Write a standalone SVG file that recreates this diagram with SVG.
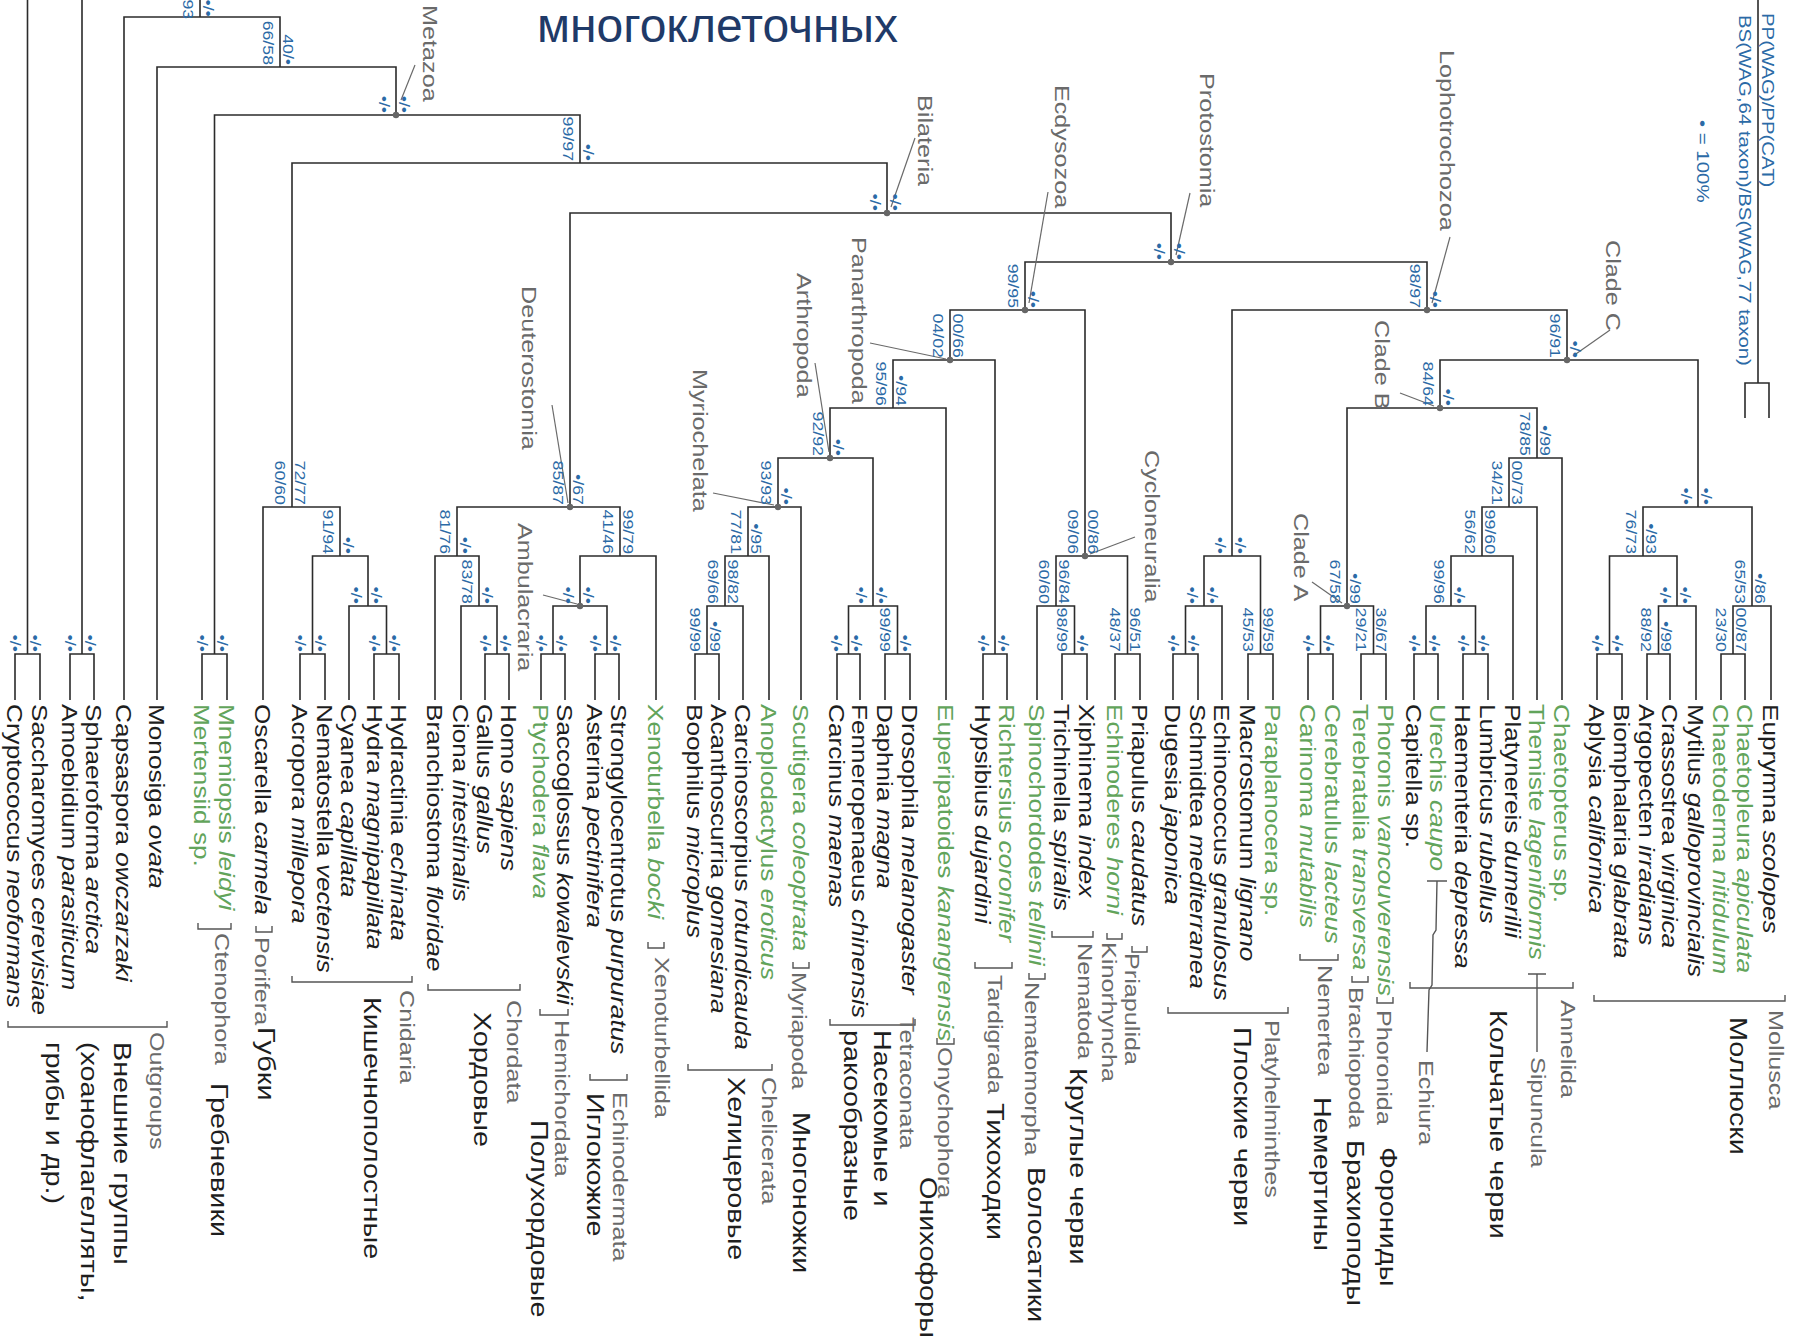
<svg xmlns="http://www.w3.org/2000/svg" width="1797" height="1340" viewBox="0 0 1797 1340">
<style>
.ln{fill:none;stroke:#2b2b2b;stroke-width:1.6}
.br{fill:none;stroke:#555;stroke-width:1.4}
.ld{fill:none;stroke:#6a6a6a;stroke-width:1.2}
text{font-family:"Liberation Sans",Arial,sans-serif}
.t{font-size:21.8px;fill:#1e1e1e}
.g{fill:#62a45b}
.i{font-style:italic}
.s{font-size:14.8px;fill:#2b6aa6}
.c{font-size:21px;fill:#6a6a6a}
.r{font-size:24px;fill:#1e1e1e}
.lg{font-size:17px;fill:#2b6aa6}
.e{text-anchor:end}
.dot{fill:#666}
</style>
<rect width="1797" height="1340" fill="#fff"/>
<text x="537" y="42" font-family="Liberation Sans, Arial, sans-serif" font-size="48" fill="#1f3a68">многоклеточных</text>

<g id="connectors">
<path class="ln" d="M15 700V654H40V700M27.5 654V0"/>
<path class="ln" d="M70 700V654H94V700M82 654V0"/>
<path class="ln" d="M202 700V654H227V700"/>
<path class="ln" d="M300 700V654H325V700"/>
<path class="ln" d="M374 700V654H399V700"/>
<path class="ln" d="M485 700V654H509V700"/>
<path class="ln" d="M541 700V654H565V700"/>
<path class="ln" d="M595 700V654H619V700"/>
<path class="ln" d="M695 700V654H719V700"/>
<path class="ln" d="M837 700V654H860V700"/>
<path class="ln" d="M885 700V654H910V700"/>
<path class="ln" d="M983 700V654H1007V700"/>
<path class="ln" d="M1062 700V654H1087V700"/>
<path class="ln" d="M1115 700V654H1140V700"/>
<path class="ln" d="M1173 700V654H1198V700"/>
<path class="ln" d="M1248 700V654H1273V700"/>
<path class="ln" d="M1308 700V654H1333V700"/>
<path class="ln" d="M1361 700V654H1386V700"/>
<path class="ln" d="M1414 700V654H1438V700"/>
<path class="ln" d="M1463 700V654H1488V700"/>
<path class="ln" d="M1597 700V654H1622V700"/>
<path class="ln" d="M1647 700V654H1670V700"/>
<path class="ln" d="M1721 700V654H1745V700"/>
<path class="ln" d="M349 700V606H386.5V654"/>
<path class="ln" d="M461 700V606H497V654"/>
<path class="ln" d="M553 654V606H607V654"/>
<path class="ln" d="M707 654V606H743V700"/>
<path class="ln" d="M848.5 654V606H897.5V654"/>
<path class="ln" d="M1037 700V606H1074.5V654"/>
<path class="ln" d="M1185.5 654V606H1222V700"/>
<path class="ln" d="M1320.5 654V606H1373.5V654"/>
<path class="ln" d="M1426 654V606H1475.5V654"/>
<path class="ln" d="M1658.5 654V606H1696V700"/>
<path class="ln" d="M1733 654V606H1771V700"/>
<path class="ln" d="M312.5 654V556H368V606"/>
<path class="ln" d="M435 700V556H479V606"/>
<path class="ln" d="M580 606V556H656V700"/>
<path class="ln" d="M725 606V556H769V700"/>
<path class="ln" d="M1056 606V556H1127.5V654"/>
<path class="ln" d="M1204 606V556H1260.5V654"/>
<path class="ln" d="M1451 606V556H1513V700"/>
<path class="ln" d="M1609.5 654V556H1677V606"/>
<path class="ln" d="M263 700V507H340V556"/>
<path class="ln" d="M457 556V507H620V556"/>
<path class="ln" d="M748 556V507H801V700"/>
<path class="ln" d="M1482 556V507H1537V700"/>
<path class="ln" d="M1643 556V507H1752V606"/>
<path class="ln" d="M778 507V458H873V606"/>
<path class="ln" d="M1509 507V458H1562V700"/>
<path class="ln" d="M830 458V408H946V700"/>
<path class="ln" d="M1347 606V408H1537V458"/>
<path class="ln" d="M893 408V360H995V654"/>
<path class="ln" d="M1440 408V360H1698V507"/>
<path class="ln" d="M950 360V310H1085V556"/>
<path class="ln" d="M1232 556V310H1567V360"/>
<path class="ln" d="M1025 310V262H1427V310"/>
<path class="ln" d="M570 507V213H1171V262"/>
<path class="ln" d="M292 507V163H887V213"/>
<path class="ln" d="M214.5 654V115H580V163"/>
<path class="ln" d="M157 700V67H396V115"/>
<path class="ln" d="M124 700V17H280V67M200 17V0"/>
<path class="ln" d="M1758 0V383M1745 418V383H1769V418"/>
<g class="ld">
<path d="M415 65L401 100"/>
<path d="M915 138L891 207"/>
<path d="M1048 192L1029 303"/>
<path d="M1190 193L1176 255"/>
<path d="M1450 237L1432 303"/>
<path d="M1610 330L1573 356"/>
<path d="M1400 393L1434 406"/>
<path d="M1312 582L1342 603"/>
<path d="M1135 537L1090 554"/>
<path d="M552 405L568 503"/>
<path d="M713 493L774 505"/>
<path d="M815 363L829 452"/>
<path d="M870 343L946 359"/>
<path d="M543 595L577 604"/>
</g>
<g class="dot">
<circle cx="396" cy="115" r="3.2"/><circle cx="887" cy="213" r="3.2"/><circle cx="1171" cy="262" r="3.2"/>
<circle cx="1025" cy="310" r="3.2"/><circle cx="1427" cy="310" r="3.2"/><circle cx="1567" cy="360" r="3.2"/>
<circle cx="1440" cy="408" r="3.2"/><circle cx="950" cy="360" r="3.2"/><circle cx="830" cy="458" r="3.2"/>
<circle cx="778" cy="507" r="3.2"/><circle cx="570" cy="507" r="3.2"/><circle cx="580" cy="606" r="3.2"/>
<circle cx="1085" cy="556" r="3.2"/><circle cx="1347" cy="606" r="3.2"/>
</g>
<g class="br">
<path d="M8 1021V1027H167V1021"/>
<path d="M198 923V929H231V923"/>
<path d="M256 926V932H272V926"/>
<path d="M292 976V982H412V976"/>
<path d="M428 984V990H520V984"/>
<path d="M540 1009V1015H568V1009"/>
<path d="M590 1074V1080H627V1074"/>
<path d="M648 942V948H664V942"/>
<path d="M688 1064V1070H772V1064"/>
<path d="M793 962V968H809V962"/>
<path d="M830 1019V1025H915V1019"/>
<path d="M937 1038V1044H954V1038"/>
<path d="M975 962V968H1012V962"/>
<path d="M1029 973V979H1045V973"/>
<path d="M1052 931V937H1093V931"/>
<path d="M1107 933V939H1122V933"/>
<path d="M1132 946V952H1147V946"/>
<path d="M1168 1007V1013H1288V1007"/>
<path d="M1300 954V960H1338V954"/>
<path d="M1352 976V982H1368V976"/>
<path d="M1377 997V1003H1393V997"/>
<path d="M1410 982V988H1573V982"/>
<path d="M1594 995V1001H1785V995"/>
<path d="M1528 974H1546M1537 974V1052"/>
<path d="M1427 881H1447M1437 881L1436 930L1433 935L1432 985L1429 990L1427 1052"/>
</g>
</g>

<g transform="rotate(90) scale(1.2,1)">
<g id="taxa" class="t">
<g id="t01"><text x="586.7" y="-7.5">Cryptococcus <tspan class="i">neoformans</tspan></text></g>
<g id="t02"><text x="586.7" y="-32.5">Saccharomyces <tspan class="i">cerevisiae</tspan></text></g>
<g id="t03"><text x="586.7" y="-62.5">Amoebidium <tspan class="i">parasiticum</tspan></text></g>
<g id="t04"><text x="586.7" y="-86.5">Sphaeroforma <tspan class="i">arctica</tspan></text></g>
<g id="t05"><text x="586.7" y="-116.5">Capsaspora <tspan class="i">owczarzaki</tspan></text></g>
<g id="t06"><text x="586.7" y="-149.5">Monosiga <tspan class="i">ovata</tspan></text></g>
<g id="t07"><text class="g" x="586.7" y="-194.5">Mertensiid sp.</text></g>
<g id="t08"><text class="g" x="586.7" y="-219.5">Mnemiopsis <tspan class="i">leidyi</tspan></text></g>
<g id="t09"><text x="586.7" y="-255.5">Oscarella <tspan class="i">carmela</tspan></text></g>
<g id="t10"><text x="586.7" y="-292.5">Acropora <tspan class="i">millepora</tspan></text></g>
<g id="t11"><text x="586.7" y="-317.5">Nematostella <tspan class="i">vectensis</tspan></text></g>
<g id="t12"><text x="586.7" y="-341.5">Cyanea <tspan class="i">capillata</tspan></text></g>
<g id="t13"><text x="586.7" y="-366.5">Hydra <tspan class="i">magnipapillata</tspan></text></g>
<g id="t14"><text x="586.7" y="-391.5">Hydractinia <tspan class="i">echinata</tspan></text></g>
<g id="t15"><text x="586.7" y="-427.5">Branchiostoma <tspan class="i">floridae</tspan></text></g>
<g id="t16"><text x="586.7" y="-453.5">Ciona <tspan class="i">intestinalis</tspan></text></g>
<g id="t17"><text x="586.7" y="-477.5">Gallus <tspan class="i">gallus</tspan></text></g>
<g id="t18"><text x="586.7" y="-501.5">Homo <tspan class="i">sapiens</tspan></text></g>
<g id="t19"><text class="g" x="586.7" y="-533.5">Ptychodera <tspan class="i">flava</tspan></text></g>
<g id="t20"><text x="586.7" y="-557.5">Saccoglossus <tspan class="i">kowalevskii</tspan></text></g>
<g id="t21"><text x="586.7" y="-587.5">Asterina <tspan class="i">pectinifera</tspan></text></g>
<g id="t22"><text x="586.7" y="-611.5">Strongylocentrotus <tspan class="i">purpuratus</tspan></text></g>
<g id="t23"><text class="g" x="586.7" y="-648.5">Xenoturbella <tspan class="i">bocki</tspan></text></g>
<g id="t24"><text x="586.7" y="-687.5">Boophilus <tspan class="i">microplus</tspan></text></g>
<g id="t25"><text x="586.7" y="-711.5">Acanthoscurria <tspan class="i">gomesiana</tspan></text></g>
<g id="t26"><text x="586.7" y="-735.5">Carcinoscorpius <tspan class="i">rotundicauda</tspan></text></g>
<g id="t27"><text class="g" x="586.7" y="-761.5">Anoplodactylus <tspan class="i">eroticus</tspan></text></g>
<g id="t28"><text class="g" x="586.7" y="-793.5">Scutigera <tspan class="i">coleoptrata</tspan></text></g>
<g id="t29"><text x="586.7" y="-829.5">Carcinus <tspan class="i">maenas</tspan></text></g>
<g id="t30"><text x="586.7" y="-852.5">Fenneropenaeus <tspan class="i">chinensis</tspan></text></g>
<g id="t31"><text x="586.7" y="-877.5">Daphnia <tspan class="i">magna</tspan></text></g>
<g id="t32"><text x="586.7" y="-902.5">Drosophila <tspan class="i">melanogaster</tspan></text></g>
<g id="t33"><text class="g" x="586.7" y="-938.5">Euperipatoides <tspan class="i">kanangrensis</tspan></text></g>
<g id="t34"><text x="586.7" y="-975.5">Hypsibius <tspan class="i">dujardini</tspan></text></g>
<g id="t35"><text class="g" x="586.7" y="-999.5">Richtersius <tspan class="i">coronifer</tspan></text></g>
<g id="t36"><text class="g" x="586.7" y="-1029.5">Spinochordodes <tspan class="i">tellinii</tspan></text></g>
<g id="t37"><text x="586.7" y="-1054.5">Trichinella <tspan class="i">spiralis</tspan></text></g>
<g id="t38"><text x="586.7" y="-1079.5">Xiphinema <tspan class="i">index</tspan></text></g>
<g id="t39"><text class="g" x="586.7" y="-1107.5">Echinoderes <tspan class="i">horni</tspan></text></g>
<g id="t40"><text x="586.7" y="-1132.5">Priapulus <tspan class="i">caudatus</tspan></text></g>
<g id="t41"><text x="586.7" y="-1165.5">Dugesia <tspan class="i">japonica</tspan></text></g>
<g id="t42"><text x="586.7" y="-1190.5">Schmidtea <tspan class="i">mediterranea</tspan></text></g>
<g id="t43"><text x="586.7" y="-1214.5">Echinococcus <tspan class="i">granulosus</tspan></text></g>
<g id="t44"><text x="586.7" y="-1240.5">Macrostomum <tspan class="i">lignano</tspan></text></g>
<g id="t45"><text class="g" x="586.7" y="-1265.5">Paraplanocera sp.</text></g>
<g id="t46"><text class="g" x="586.7" y="-1300.5">Carinoma <tspan class="i">mutabilis</tspan></text></g>
<g id="t47"><text class="g" x="586.7" y="-1325.5">Cerebratulus <tspan class="i">lacteus</tspan></text></g>
<g id="t48"><text class="g" x="586.7" y="-1353.5">Terebratalia <tspan class="i">transversa</tspan></text></g>
<g id="t49"><text class="g" x="586.7" y="-1378.5">Phoronis <tspan class="i">vancouverensis</tspan></text></g>
<g id="t50"><text x="586.7" y="-1406.5">Capitella sp.</text></g>
<g id="t51"><text class="g" x="586.7" y="-1430.5">Urechis <tspan class="i">caupo</tspan></text></g>
<g id="t52"><text x="586.7" y="-1455.5">Haementeria <tspan class="i">depressa</tspan></text></g>
<g id="t53"><text x="586.7" y="-1480.5">Lumbricus <tspan class="i">rubellus</tspan></text></g>
<g id="t54"><text x="586.7" y="-1505.5">Platynereis <tspan class="i">dumerilii</tspan></text></g>
<g id="t55"><text class="g" x="586.7" y="-1529.5">Themiste <tspan class="i">lageniformis</tspan></text></g>
<g id="t56"><text class="g" x="586.7" y="-1554.5">Chaetopterus sp.</text></g>
<g id="t57"><text x="586.7" y="-1589.5">Aplysia <tspan class="i">californica</tspan></text></g>
<g id="t58"><text x="586.7" y="-1614.5">Biomphalaria <tspan class="i">glabrata</tspan></text></g>
<g id="t59"><text x="586.7" y="-1639.5">Argopecten <tspan class="i">irradians</tspan></text></g>
<g id="t60"><text x="586.7" y="-1662.5">Crassostrea <tspan class="i">virginica</tspan></text></g>
<g id="t61"><text x="586.7" y="-1688.5">Mytilus <tspan class="i">galloprovincialis</tspan></text></g>
<g id="t62"><text class="g" x="586.7" y="-1713.5">Chaetoderma <tspan class="i">nitidulum</tspan></text></g>
<g id="t63"><text class="g" x="586.7" y="-1737.5">Chaetopleura <tspan class="i">apiculata</tspan></text></g>
<g id="t64"><text x="586.7" y="-1763.5">Euprymna <tspan class="i">scolopes</tspan></text></g>
</g>

<g id="support" class="s e">
<text x="543.3" y="-10.5">•/•</text><text x="543.3" y="-30.5">•/•</text>
<text x="543.3" y="-65">•/•</text><text x="543.3" y="-85">•/•</text>
<text x="543.3" y="-197.5">•/•</text><text x="543.3" y="-217.5">•/•</text>
<text x="543.3" y="-295.5">•/•</text><text x="543.3" y="-315.5">•/•</text>
<text x="543.3" y="-369.5">•/•</text><text x="543.3" y="-389.5">•/•</text>
<text x="543.3" y="-480">•/•</text><text x="543.3" y="-500">•/•</text>
<text x="543.3" y="-536">•/•</text><text x="543.3" y="-556">•/•</text>
<text x="543.3" y="-590">•/•</text><text x="543.3" y="-610">•/•</text>
<text x="543.3" y="-690">99/99</text><text x="543.3" y="-710">•/99</text>
<text x="543.3" y="-831.5">•/•</text><text x="543.3" y="-851.5">•/•</text>
<text x="543.3" y="-880.5">99/99</text><text x="543.3" y="-900.5">•/•</text>
<text x="543.3" y="-978">•/•</text><text x="543.3" y="-998">•/•</text>
<text x="543.3" y="-1057.5">98/99</text><text x="543.3" y="-1077.5">•/•</text>
<text x="543.3" y="-1110.5">48/37</text><text x="543.3" y="-1130.5">96/51</text>
<text x="543.3" y="-1168.5">•/•</text><text x="543.3" y="-1188.5">•/•</text>
<text x="543.3" y="-1243.5">45/53</text><text x="543.3" y="-1263.5">99/59</text>
<text x="543.3" y="-1303.5">•/•</text><text x="543.3" y="-1323.5">•/•</text>
<text x="543.3" y="-1356.5">29/21</text><text x="543.3" y="-1376.5">36/67</text>
<text x="543.3" y="-1409">•/•</text><text x="543.3" y="-1429">•/•</text>
<text x="543.3" y="-1458.5">•/•</text><text x="543.3" y="-1478.5">•/•</text>
<text x="543.3" y="-1592.5">•/•</text><text x="543.3" y="-1612.5">•/•</text>
<text x="543.3" y="-1641.5">88/92</text><text x="543.3" y="-1661.5">•/99</text>
<text x="543.3" y="-1716">23/30</text><text x="543.3" y="-1736">00/87</text>

<text x="503.3" y="-351">•/•</text><text x="503.3" y="-371">•/•</text>
<text x="503.3" y="-462">83/78</text><text x="503.3" y="-482">•/•</text>
<text x="503.3" y="-563">•/•</text><text x="503.3" y="-583">•/•</text>
<text x="503.3" y="-708">69/66</text><text x="503.3" y="-728">98/82</text>
<text x="503.3" y="-856">•/•</text><text x="503.3" y="-876">•/•</text>
<text x="503.3" y="-1039">60/60</text><text x="503.3" y="-1059">96/84</text>
<text x="503.3" y="-1187">•/•</text><text x="503.3" y="-1207">•/•</text>
<text x="503.3" y="-1330">67/58</text><text x="503.3" y="-1350">•/99</text>
<text x="503.3" y="-1434">99/96</text><text x="503.3" y="-1454">•/•</text>
<text x="503.3" y="-1660">•/•</text><text x="503.3" y="-1680">•/•</text>
<text x="503.3" y="-1735">65/53</text><text x="503.3" y="-1755">•/86</text>

<text x="461.7" y="-323">91/94</text><text x="461.7" y="-343">•/•</text>
<text x="461.7" y="-440">81/76</text><text x="461.7" y="-460">•/•</text>
<text x="461.7" y="-603">41/46</text><text x="461.7" y="-623">99/79</text>
<text x="461.7" y="-731">77/81</text><text x="461.7" y="-751">•/95</text>
<text x="461.7" y="-1068">09/06</text><text x="461.7" y="-1088">00/86</text>
<text x="461.7" y="-1215">•/•</text><text x="461.7" y="-1235">•/•</text>
<text x="461.7" y="-1465">56/62</text><text x="461.7" y="-1485">99/60</text>
<text x="461.7" y="-1626">76/73</text><text x="461.7" y="-1646">•/93</text>

<text x="420.8" y="-275">60/60</text><text x="420.8" y="-295">72/77</text>
<text x="420.8" y="-553">85/87</text><text x="420.8" y="-573">•/67</text>
<text x="420.8" y="-761">93/93</text><text x="420.8" y="-781">•/•</text>
<text x="420.8" y="-1492">34/21</text><text x="420.8" y="-1512">00/73</text>
<text x="420.8" y="-1681">•/•</text><text x="420.8" y="-1701">•/•</text>

<text x="380" y="-813">92/92</text><text x="380" y="-833">•/•</text>
<text x="380" y="-1520">78/85</text><text x="380" y="-1540">•/99</text>
<text x="338.3" y="-876">95/96</text><text x="338.3" y="-896">•/94</text>
<text x="338.3" y="-1423">84/64</text><text x="338.3" y="-1443">•/•</text>
<text x="298.3" y="-933">04/02</text><text x="298.3" y="-953">00/66</text>
<text x="298.3" y="-1550">96/91</text><text x="298.3" y="-1570">•/•</text>
<text x="256.7" y="-1008">99/95</text><text x="256.7" y="-1028">•/•</text>
<text x="256.7" y="-1410">98/97</text><text x="256.7" y="-1430">•/•</text>
<text x="216.7" y="-1154">•/•</text><text x="216.7" y="-1174">•/•</text>
<text x="175.8" y="-870">•/•</text><text x="175.8" y="-890">•/•</text>
<text x="134.2" y="-563">99/97</text><text x="134.2" y="-583">•/•</text>
<text x="94.2" y="-379">•/•</text><text x="94.2" y="-399">•/•</text>
<text x="54.2" y="-263">66/58</text><text x="54.2" y="-283">40/•</text>
<text x="16" y="-183">93</text><text x="14" y="-203">•/•</text>
</g>

<g id="clades" class="c">
<g id="cl-metazoa"><text x="4.2" y="-423">Metazoa</text></g>
<g id="cl-bilateria"><text x="79.2" y="-918">Bilateria</text></g>
<g id="cl-ecdysozoa"><text x="70.8" y="-1055">Ecdysozoa</text></g>
<g id="cl-protostomia"><text x="60.8" y="-1200">Protostomia</text></g>
<g id="cl-lophotrochozoa"><text x="41.7" y="-1440">Lophotrochozoa</text></g>
<g id="cl-cladeC"><text x="200" y="-1606">Clade C</text></g>
<g id="cl-cladeB"><text x="266.7" y="-1375">Clade B</text></g>
<g id="cl-cladeA"><text x="427.5" y="-1294">Clade A</text></g>
<g id="cl-cycloneuralia"><text x="375" y="-1145">Cycloneuralia</text></g>
<g id="cl-deuterostomia"><text x="238.3" y="-522">Deuterostomia</text></g>
<g id="cl-myriochelata"><text x="307.5" y="-693">Myriochelata</text></g>
<g id="cl-arthropoda"><text x="227.5" y="-797">Arthropoda</text></g>
<g id="cl-panarthropoda"><text x="197.5" y="-852">Panarthropoda</text></g>
<g id="cl-ambulacraria"><text x="435.8" y="-518">Ambulacraria</text></g>
</g>

<g id="groups">
<g class="c">
<text x="860" y="-150">Outgroups</text>
<text x="777.5" y="-215">Ctenophora</text>
<text x="780.8" y="-255">Porifera</text>
<text x="825" y="-400">Cnidaria</text>
<text x="833.3" y="-507">Chordata</text>
<text x="850" y="-555">Hemichordata</text>
<text x="910" y="-613">Echinodermata</text>
<text x="797.5" y="-655">Xenoturbellida</text>
<text x="897.5" y="-762">Chelicerata</text>
<text x="810" y="-792">Myriapoda</text>
<text x="847.5" y="-900">Tetraconata</text>
<text x="872.5" y="-938">Onychophora</text>
<text x="812.5" y="-988">Tardigrada</text>
<text x="818.3" y="-1025">Nematomorpha</text>
<text x="785.8" y="-1078">Nematoda</text>
<text x="785" y="-1102">Kinorhyncha</text>
<text x="794.2" y="-1125">Priapulida</text>
<text x="850" y="-1265">Platyhelminthes</text>
<text x="804.2" y="-1318">Nemertea</text>
<text x="822.5" y="-1349">Brachiopoda</text>
<text x="841.7" y="-1377">Phoronida</text>
<text x="833.3" y="-1561">Annelida</text>
<text x="880.8" y="-1531">Sipuncula</text>
<text x="883.3" y="-1419">Echiura</text>
<text x="841.7" y="-1769">Mollusca</text>
</g>
<g class="r">
<text x="868.3" y="-114">Внешние группы</text>
<text x="868.3" y="-81">(хоанофлагелляты,</text>
<text x="868.3" y="-46">грибы и др.)</text>
<text x="902.5" y="-211">Гребневики</text>
<text x="855.8" y="-258">Губки</text>
<text x="830.8" y="-364">Кишечнополостные</text>
<text x="843.3" y="-474">Хордовые</text>
<text x="933.3" y="-531">Полухордовые</text>
<text x="910.8" y="-587">Иглокожие</text>
<text x="897.5" y="-728">Хелицеровые</text>
<text x="926.7" y="-793">Многоножки</text>
<text x="858.3" y="-874">Насекомые и</text>
<text x="858.3" y="-844">ракообразные</text>
<text x="980.8" y="-920">Онихофоры</text>
<text x="919.2" y="-987">Тихоходки</text>
<text x="972.5" y="-1028">Волосатики</text>
<text x="890" y="-1070">Круглые черви</text>
<text x="855.8" y="-1234">Плоские черви</text>
<text x="914.2" y="-1314">Немертины</text>
<text x="950" y="-1347">Брахиоподы</text>
<text x="955.8" y="-1380">Форониды</text>
<text x="841.7" y="-1490">Кольчатые черви</text>
<text x="847.5" y="-1730">Моллюски</text>
</g>
</g>

<g id="legend" class="lg">
<text x="10.8" y="-1762">PP(WAG)/PP(CAT)</text>
<text x="12.5" y="-1739">BS(WAG,64 taxon)/BS(WAG,77 taxon)</text>
<text x="100" y="-1697">• = 100%</text>
</g>
</g>
</svg>
